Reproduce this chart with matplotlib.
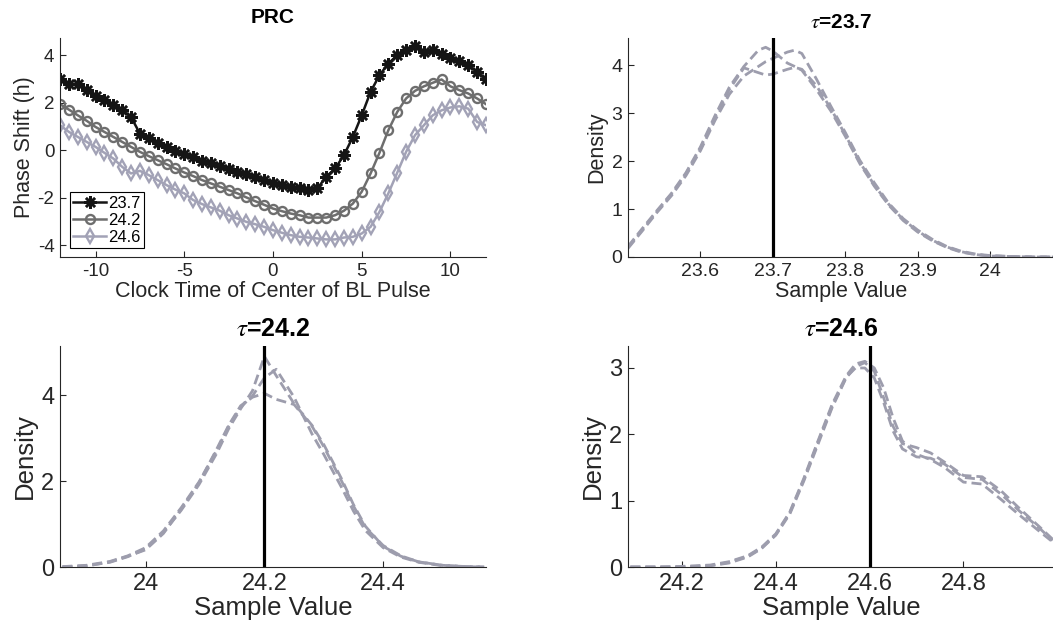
import numpy as np
import matplotlib
matplotlib.use("Agg")
import matplotlib.pyplot as plt

plt.rcParams['font.family'] = ['Liberation Sans', 'DejaVu Sans']
plt.rcParams['mathtext.fontset'] = 'stix'
plt.rcParams['axes.unicode_minus'] = False

# ---- PRC data ----
clock_time = [-12, -11.5, -11, -10.5, -10, -9.5, -9, -8.5, -8, -7.5, -7, -6.5, -6, -5.5, -5, -4.5,
              -4, -3.5, -3, -2.5, -2, -1.5, -1, -0.5, 0, 0.5, 1, 1.5, 2, 2.5, 3, 3.5, 4, 4.5,
              5, 5.5, 6, 6.5, 7, 7.5, 8, 8.5, 9, 9.5, 10, 10.5, 11, 11.5, 12]
prc_237 = [2.98, 2.80, 2.78, 2.55, 2.30, 2.10, 1.90, 1.68, 1.40, 0.70, 0.50, 0.30, 0.14, -0.03,
           -0.17, -0.30, -0.45, -0.56, -0.67, -0.80, -0.91, -1.02, -1.15, -1.26, -1.38, -1.47,
           -1.57, -1.61, -1.66, -1.61, -1.12, -0.77, -0.21, 0.56, 1.47, 2.46, 3.16, 3.65, 4.00,
           4.21, 4.38, 4.14, 4.21, 4.04, 3.90, 3.76, 3.58, 3.30, 2.98]
prc_242 = [1.94, 1.71, 1.47, 1.24, 0.98, 0.77, 0.56, 0.35, 0.14, -0.07, -0.25, -0.42, -0.59, -0.77,
           -0.94, -1.09, -1.26, -1.40, -1.54, -1.68, -1.82, -1.99, -2.15, -2.30, -2.46, -2.57,
           -2.67, -2.74, -2.84, -2.84, -2.84, -2.74, -2.55, -2.25, -1.75, -0.98, -0.11, 0.84,
           1.61, 2.18, 2.50, 2.69, 2.84, 2.98, 2.69, 2.53, 2.39, 2.18, 1.94]
prc_246 = [1.05, 0.77, 0.56, 0.35, 0.14, -0.11, -0.35, -0.70, -0.98, -0.87, -1.05, -1.26, -1.47,
           -1.66, -1.82, -2.10, -2.27, -2.41, -2.55, -2.74, -2.88, -3.02, -3.12, -3.23, -3.37,
           -3.48, -3.58, -3.65, -3.68, -3.72, -3.76, -3.76, -3.68, -3.65, -3.51, -3.23, -2.60,
           -1.82, -0.95, -0.07, 0.63, 1.05, 1.47, 1.68, 1.80, 1.85, 1.75, 1.19, 1.05]
prc_labels = ['23.7', '24.2', '24.6']

# ---- density data (three runs per tau) ----
tau_1 = 23.7
x_d1 = [23.50, 23.52, 23.54, 23.56, 23.58, 23.60, 23.62, 23.64, 23.66, 23.68, 23.69, 23.70, 23.72,
        23.73, 23.74, 23.76, 23.78, 23.80, 23.82, 23.84, 23.86, 23.88, 23.90, 23.92, 23.94, 23.96,
        23.98, 24.00, 24.03, 24.06, 24.09]
d1_a = [0.22, 0.60, 0.97, 1.33, 1.76, 2.30, 2.95, 3.55, 3.98, 4.32, 4.38, 4.30, 4.05, 3.98, 3.90,
        3.50, 3.05, 2.52, 1.95, 1.48, 1.08, 0.76, 0.52, 0.34, 0.20, 0.10, 0.05, 0.02, 0.01, 0.0, 0.0]
d1_b = [0.18, 0.55, 0.93, 1.28, 1.70, 2.22, 2.85, 3.40, 3.78, 3.98, 4.08, 4.15, 4.28, 4.32, 4.25,
        3.72, 3.15, 2.60, 2.02, 1.55, 1.12, 0.80, 0.56, 0.37, 0.22, 0.12, 0.06, 0.03, 0.01, 0.0, 0.0]
d1_c = [0.20, 0.57, 0.95, 1.31, 1.74, 2.27, 2.90, 3.50, 3.95, 3.85, 3.80, 3.82, 3.92, 3.96, 3.92,
        3.58, 3.10, 2.55, 1.98, 1.50, 1.10, 0.78, 0.54, 0.35, 0.21, 0.11, 0.05, 0.02, 0.01, 0.0, 0.0]

tau_2 = 24.2
x_d2 = [23.86, 23.90, 23.94, 23.97, 24.00, 24.03, 24.06, 24.09, 24.12, 24.14, 24.16, 24.18, 24.20,
        24.22, 24.25, 24.28, 24.30, 24.33, 24.35, 24.37, 24.40, 24.43, 24.46, 24.50, 24.54, 24.57]
d2_a = [0.00, 0.03, 0.11, 0.24, 0.42, 0.80, 1.32, 1.92, 2.65, 3.22, 3.68, 4.10, 4.90, 4.45, 3.80,
        3.30, 2.85, 2.05, 1.45, 0.95, 0.48, 0.25, 0.12, 0.04, 0.01, 0.00]
d2_b = [0.01, 0.04, 0.13, 0.26, 0.45, 0.84, 1.38, 1.98, 2.72, 3.28, 3.72, 3.98, 4.40, 4.60, 3.95,
        3.10, 2.62, 1.85, 1.30, 0.85, 0.45, 0.23, 0.11, 0.03, 0.01, 0.00]
d2_c = [0.00, 0.02, 0.12, 0.25, 0.40, 0.78, 1.35, 1.96, 2.75, 3.30, 3.75, 3.95, 4.04, 3.90, 3.78,
        3.28, 2.80, 2.00, 1.42, 0.92, 0.50, 0.26, 0.12, 0.04, 0.01, 0.00]

tau_3 = 24.6
x_d3 = [24.09, 24.15, 24.20, 24.26, 24.30, 24.34, 24.37, 24.40, 24.43, 24.46, 24.49, 24.52, 24.55,
        24.57, 24.59, 24.61, 24.63, 24.65, 24.67, 24.70, 24.73, 24.76, 24.80, 24.84, 24.88, 24.92,
        24.96, 24.99]
d3_a = [0.00, 0.00, 0.00, 0.02, 0.06, 0.15, 0.28, 0.48, 0.80, 1.30, 1.85, 2.40, 2.85, 3.02, 3.08,
        2.95, 2.55, 2.12, 1.86, 1.80, 1.72, 1.58, 1.38, 1.36, 1.15, 0.88, 0.62, 0.42]
d3_b = [0.00, 0.00, 0.01, 0.03, 0.08, 0.17, 0.30, 0.50, 0.83, 1.34, 1.90, 2.45, 2.88, 3.06, 3.10,
        3.00, 2.70, 2.25, 1.90, 1.70, 1.62, 1.50, 1.28, 1.25, 1.02, 0.78, 0.55, 0.38]
d3_c = [0.00, 0.00, 0.00, 0.02, 0.07, 0.16, 0.29, 0.49, 0.82, 1.32, 1.88, 2.42, 2.86, 3.00, 3.00,
        2.85, 2.48, 2.05, 1.78, 1.66, 1.64, 1.55, 1.35, 1.32, 1.10, 0.84, 0.60, 0.40]

axis_col = '#262626'
dens_col = '#9d9dad'


def style_axes(ax, fs):
    for s in ['top', 'right']:
        ax.spines[s].set_visible(False)
    for s in ['left', 'bottom']:
        ax.spines[s].set_color(axis_col)
        ax.spines[s].set_linewidth(0.8)
    ax.tick_params(direction='in', length=4, width=0.8, colors=axis_col,
                   labelsize=fs, pad=4)


def density_panel(ax, x, curves, tau, xlim, ylim, xticks, yticks, fs, tfs):
    for c in curves:
        ax.plot(x, c, color=dens_col, lw=2.0, dashes=(3.6, 1.8))
    ax.axvline(tau, color='k', lw=2.3)
    ax.set_xlim(xlim)
    ax.set_ylim(ylim)
    ax.set_xticks(xticks)
    ax.set_xticklabels(['%g' % t for t in xticks])
    ax.set_yticks(yticks)
    ax.set_yticklabels(['%g' % t for t in yticks])
    style_axes(ax, fs)
    ax.set_xlabel('Sample Value', fontsize=fs + 1.5, color=axis_col, labelpad=1)
    ax.set_ylabel('Density', fontsize=fs + 1.5, color=axis_col, labelpad=3)
    ax.set_title(r'$\tau$=%g' % tau, fontsize=tfs, fontweight='bold', pad=7)


fig = plt.figure(figsize=(10.53, 6.26), dpi=100)

w = 0.4045
ax1 = fig.add_axes([0.057, 0.5895, w, 0.3495])
ax2 = fig.add_axes([0.5964, 0.5895, w, 0.3495])
ax3 = fig.add_axes([0.057, 0.0942, w, 0.353])
ax4 = fig.add_axes([0.5964, 0.0942, w, 0.353])

# PRC panel
ax1.plot(clock_time, prc_237, color='#151515', lw=1.8, marker=(8, 2, 0), ms=9, mew=1.8,
         label=prc_labels[0])
ax1.plot(clock_time, prc_242, color='#6e6e6e', lw=1.8, marker='o', ms=6.5, mew=1.7,
         mfc='none', label=prc_labels[1])
ax1.plot(clock_time, prc_246, color='#a2a2b6', lw=1.8, marker='d', ms=7.5, mew=1.7,
         mfc='none', label=prc_labels[2])
ax1.set_xlim(-12, 12)
ax1.set_ylim(-4.5, 4.72)
ax1.set_xticks([-10, -5, 0, 5, 10])
ax1.set_xticklabels(['-10', '-5', '0', '5', '10'])
ax1.set_yticks([-4, -2, 0, 2, 4])
ax1.set_yticklabels(['-4', '-2', '0', '2', '4'])
style_axes(ax1, 13.5)
ax1.set_xlabel('Clock Time of Center of BL Pulse', fontsize=15.5, color=axis_col, labelpad=1)
ax1.set_ylabel('Phase Shift (h)', fontsize=15.5, color=axis_col, labelpad=2)
ax1.set_title('PRC', fontsize=15, fontweight='bold', pad=11)
leg = ax1.legend(loc='lower left', bbox_to_anchor=(0.023, 0.041), borderaxespad=0,
                 fontsize=12, handlelength=2.0, handletextpad=0.1, labelspacing=0.12,
                 borderpad=0.2, fancybox=False, framealpha=1)
leg.get_frame().set_edgecolor('k')
leg.get_frame().set_linewidth(0.8)

density_panel(ax2, x_d1, [d1_a, d1_b, d1_c], tau_1, (23.5, 24.088), (0, 4.57),
              [23.6, 23.7, 23.8, 23.9, 24.0], [0, 1, 2, 3, 4], 14, 15)
density_panel(ax3, x_d2, [d2_a, d2_b, d2_c], tau_2, (23.856, 24.573), (0, 5.14),
              [24.0, 24.2, 24.4], [0, 2, 4], 17, 18)
density_panel(ax4, x_d3, [d3_a, d3_b, d3_c], tau_3, (24.085, 24.993), (0, 3.33),
              [24.2, 24.4, 24.6, 24.8], [0, 1, 2, 3], 17, 18)

fig.savefig('out.png', dpi=100)
